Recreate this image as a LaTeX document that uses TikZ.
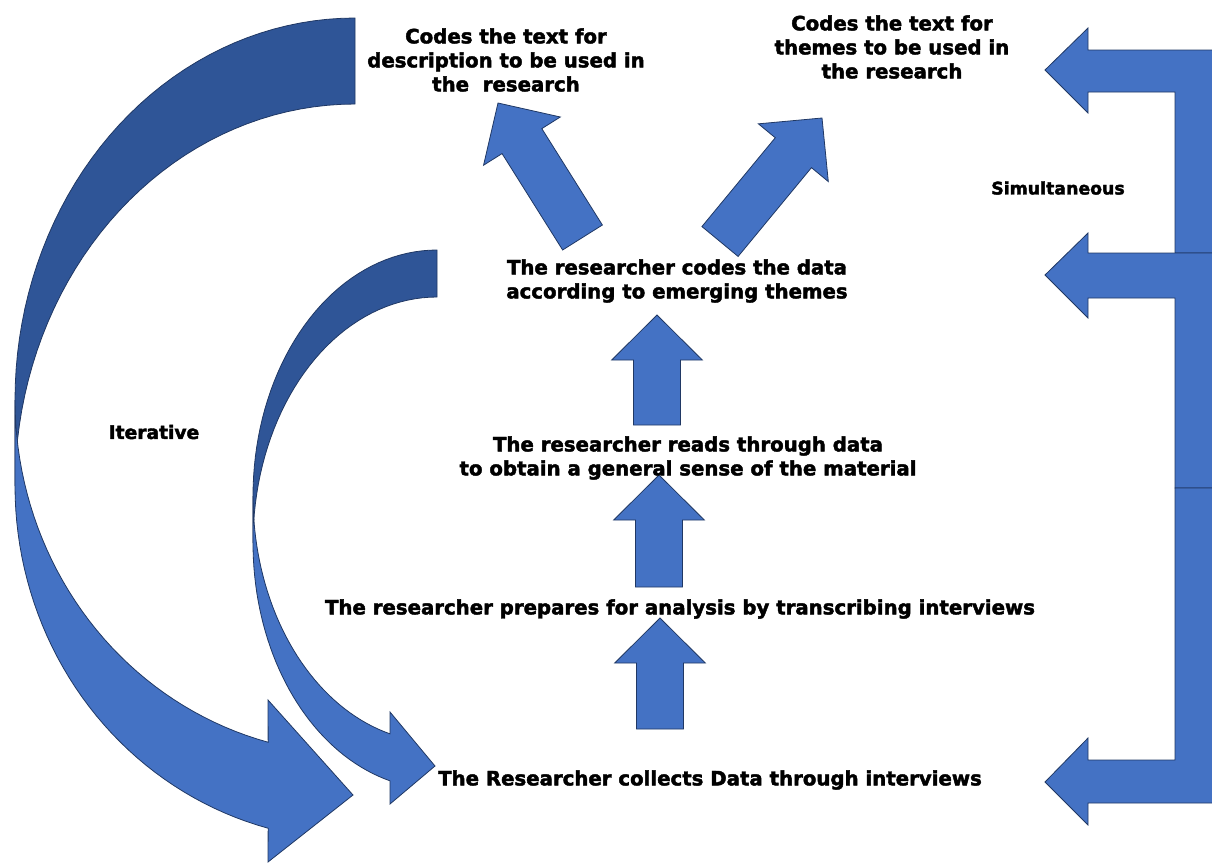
\documentclass[tikz,border=0pt]{standalone}
\usepackage{fontspec}
\setmainfont{DejaVu Sans}[BoldFeatures={FakeBold=2.2}]
\usetikzlibrary{calc}
\definecolor{arrowblue}{RGB}{68,114,196}
\definecolor{arrowdark}{RGB}{47,85,151}
\definecolor{arrowedge}{RGB}{32,56,100}
\tikzset{%
	blockarrow/.style={draw=arrowedge, line width=0.6pt, fill=arrowblue, line join=miter},
	backband/.style={blockarrow, fill=arrowdark},
	steptext/.style={font=\bfseries\fontsize{14.8}{18}\selectfont, align=center, inner sep=0pt},
	sidetext/.style={steptext, font=\bfseries\fontsize{14}{18}\selectfont}
}
% block arrow with shaft and head, from #1 to the tip #2
\newcommand{\flowarrow}[2]{%
	\coordinate (hb) at ($(#2)!33.75pt!(#1)$);
	\draw[blockarrow] ($(#1)!17.6pt!90:(#2)$) -- ($(hb)!17.6pt!90:(#2)$) -- ($(hb)!34pt!90:(#2)$) -- (#2)
		-- ($(hb)!34pt!-90:(#2)$) -- ($(hb)!17.6pt!-90:(#2)$) -- ($(#1)!17.6pt!-90:(#2)$) -- cycle;
}

\begin{document}
\begin{tikzpicture}[x=0.75pt, y=-0.75pt]
	\useasboundingbox (0,0) rectangle (1212,864);

	% iterative loops on the left
	\draw[backband] plot[domain=270:180, samples=40, variable=\t] ({355+340*cos(\t)},{400+382*sin(\t)})
		-- plot[domain=180:270, samples=40, variable=\t] ({355+340*cos(\t)},{486+382*sin(\t)}) -- cycle;
	\draw[blockarrow] plot[domain=180:104.8, samples=40, variable=\t] ({355+340*cos(\t)},{400+354*sin(\t)})
		-- (268,700) -- (353,795) -- (268,862)
		-- plot[domain=104.8:180, samples=40, variable=\t] ({355+340*cos(\t)},{486+354*sin(\t)}) -- cycle;
	\draw[backband] plot[domain=270:180, samples=40, variable=\t] ({437+184*cos(\t)},{496+246*sin(\t)})
		-- plot[domain=180:270, samples=40, variable=\t] ({437+184*cos(\t)},{543+246*sin(\t)}) -- cycle;
	\draw[blockarrow] plot[domain=180:104.8, samples=40, variable=\t] ({437+184*cos(\t)},{496+246*sin(\t)})
		-- (390,712) -- (435,766) -- (390,804)
		-- plot[domain=104.8:180, samples=40, variable=\t] ({437+184*cos(\t)},{543+246*sin(\t)}) -- cycle;

	% simultaneous bracket on the right
	\draw[blockarrow] (1212,50) -- (1088,50) -- (1088,28) -- (1045,70) -- (1088,113) -- (1088,92)
		-- (1175,92) -- (1175,253) -- (1212,253);
	\draw[blockarrow] (1212,253) -- (1088,253) -- (1088,233) -- (1045,275) -- (1088,318) -- (1088,298)
		-- (1175,298) -- (1175,488) -- (1212,488);
	\draw[blockarrow] (1212,488) -- (1175,488) -- (1175,760) -- (1088,760) -- (1088,738) -- (1045,782)
		-- (1088,825) -- (1088,803) -- (1212,803);

	% steps
	\coordinate (up1s) at (657,425);   \coordinate (up1e) at (657,315);
	\coordinate (up2s) at (659,587);   \coordinate (up2e) at (659,475);
	\coordinate (up3s) at (660,729);   \coordinate (up3e) at (660,618);
	\coordinate (descs) at (582.5,237.5); \coordinate (desce) at (498,103);
	\coordinate (themes) at (720,241.5);  \coordinate (themee) at (822,118);
	\flowarrow{up1s}{up1e}
	\flowarrow{up2s}{up2e}
	\flowarrow{up3s}{up3e}
	\flowarrow{descs}{desce}
	\flowarrow{themes}{themee}

	\node[steptext] (desc) at (506,60) {Codes the text for\\description to be used in\\the\ \ research};
	\node[steptext] (theme) at (892,47) {Codes the text for\\themes to be used in\\the research};
	\node[sidetext, font=\bfseries\fontsize{13}{18}\selectfont] (simul) at (1058,188) {Simultaneous};
	\node[sidetext] (iter) at (154,432) {Iterative};
	\node[steptext] (code) at (677,281) {The researcher codes the data\\according to emerging themes};
	\node[steptext] (read) at (688,458) {The researcher reads through data\\to obtain a general sense of the material};
	\node[steptext] (prep) at (680,609) {The researcher prepares for analysis by transcribing interviews};
	\node[steptext] (collect) at (710,780) {The Researcher collects Data through interviews};
\end{tikzpicture}
\end{document}
